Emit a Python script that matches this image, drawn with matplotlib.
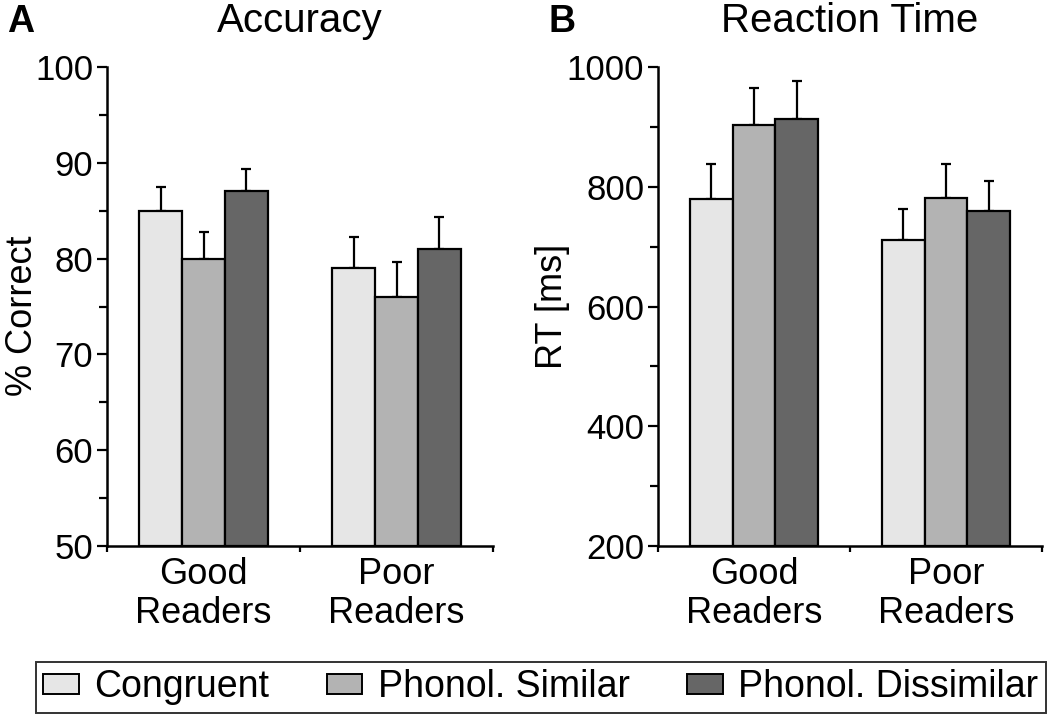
import numpy as np
import matplotlib
matplotlib.use("Agg")
from matplotlib import pyplot as plt
from matplotlib.patches import Patch

plt.rcParams['font.family'] = ['Liberation Sans', 'DejaVu Sans']

groups = ['Good\nReaders', 'Poor\nReaders']
conditions = ['Congruent', 'Phonol. Similar', 'Phonol. Dissimilar']
colors = ['#e6e6e6', '#b3b3b3', '#666666']

# accuracy (% correct) and upper error (SE)
acc_mean = [[85.0, 80.0, 87.1], [79.0, 76.0, 81.0]]
acc_err = [[2.5, 2.8, 2.3], [3.3, 3.6, 3.3]]

# reaction time in ms
rt_mean = [[780, 903, 913], [711, 781, 759]]
rt_err = [[58, 62, 63], [52, 57, 51]]

fig = plt.figure(figsize=(10.5, 7.19), dpi=100)
axA = fig.add_axes([0.102, 0.2406, 0.3675, 0.6662])
axB = fig.add_axes([0.6267, 0.2406, 0.3657, 0.6662])

bw = 0.222
x = np.arange(len(groups))


def draw_panel(ax, means, errs, ylim, major, minor, ylabel, title):
    means = np.array(means)
    errs = np.array(errs)
    for j in range(len(conditions)):
        xs = x + (j - 1) * bw
        ax.bar(xs, means[:, j] - ylim[0], bw, bottom=ylim[0], color=colors[j],
               edgecolor='black', linewidth=1.6, zorder=2)
        ax.errorbar(xs, means[:, j], yerr=[np.zeros(len(groups)), errs[:, j]], fmt='none',
                    ecolor='black', elinewidth=1.6, capsize=3.3, capthick=1.6, zorder=1)
    ax.set_ylim(*ylim)
    ax.set_xlim(-0.5, 1.5)
    ax.set_yticks(np.arange(ylim[0], ylim[1] + 1, major))
    ax.set_yticks(np.arange(ylim[0], ylim[1] + 1, minor), minor=True)
    ax.set_xticks([-0.5, 0.5, 1.5])
    ax.set_xticklabels([])
    ax.set_xticks(x, minor=True)
    ax.set_xticklabels(groups, minor=True, fontsize=26, linespacing=1.15)
    ax.tick_params(axis='x', which='minor', length=0, pad=8)
    ax.tick_params(axis='x', which='major', length=4, width=1.6, direction='out')
    ax.tick_params(axis='y', which='major', length=7, width=1.6, labelsize=25, pad=3)
    ax.tick_params(axis='y', which='minor', length=6, width=1.6)
    for s in ['top', 'right']:
        ax.spines[s].set_visible(False)
    for s in ['left', 'bottom']:
        ax.spines[s].set_linewidth(1.8)
    ax.set_ylabel(ylabel, fontsize=26)
    ax.set_title(title, fontsize=29, pad=25)


draw_panel(axA, acc_mean, acc_err, (50, 100), 10, 5, '% Correct', 'Accuracy')
draw_panel(axB, rt_mean, rt_err, (200, 1000), 200, 100, 'RT [ms]', 'Reaction Time')
axA.yaxis.set_label_coords(-0.173, 0.48)
axB.yaxis.set_label_coords(-0.23, 0.5)

fig.text(0.0067, 0.9555, 'A', fontsize=27, fontweight='bold', va='baseline', ha='left')
fig.text(0.522, 0.9555, 'B', fontsize=27, fontweight='bold', va='baseline', ha='left')

handles = [Patch(facecolor=c, edgecolor='black', linewidth=1.4) for c in colors]
leg = fig.legend(handles, conditions, loc='center', bbox_to_anchor=(0.515, 0.0445), ncol=3,
                 fontsize=27, frameon=True, fancybox=False, edgecolor='black',
                 handlelength=0.95, handleheight=0.45, handletextpad=0.42, columnspacing=1.52,
                 borderpad=0.2, borderaxespad=0)
leg.get_frame().set_linewidth(1.4)

plt.savefig('out.png', dpi=100)
